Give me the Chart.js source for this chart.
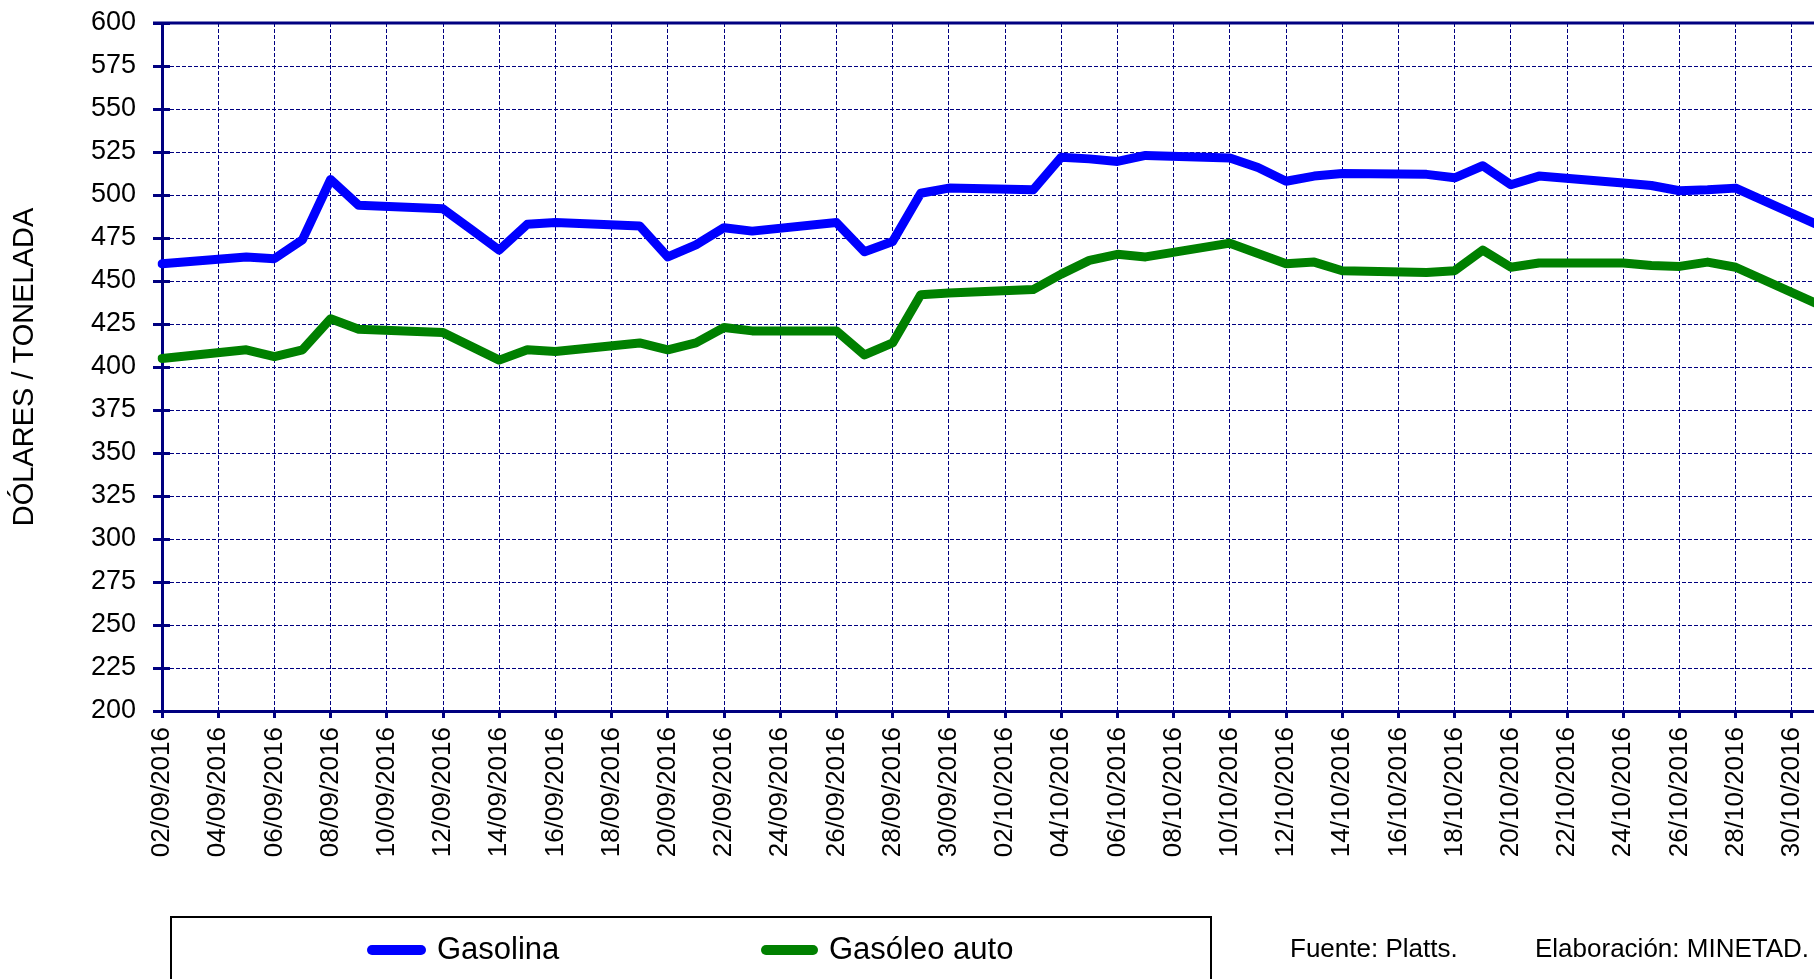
<!DOCTYPE html>
<html>
<head>
<meta charset="utf-8">
<title>Gasolina y gasóleo auto</title>
<script src="https://cdn.jsdelivr.net/npm/chart.js@4.4.0/dist/chart.umd.min.js"></script>
<style>
  html, body { margin: 0; padding: 0; background: #fff; overflow: hidden; }
  canvas { display: block; }
</style>
</head>
<body>
<canvas id="precios" width="1845" height="1000"></canvas>
<script>
// dias con cotizacion (los fines de semana no hay dato)
const dates = [
  "02/09/2016", "05/09/2016", "06/09/2016", "07/09/2016", "08/09/2016", "09/09/2016",
  "12/09/2016", "13/09/2016", "14/09/2016", "15/09/2016", "16/09/2016",
  "19/09/2016", "20/09/2016", "21/09/2016", "22/09/2016", "23/09/2016",
  "26/09/2016", "27/09/2016", "28/09/2016", "29/09/2016", "30/09/2016",
  "03/10/2016", "04/10/2016", "05/10/2016", "06/10/2016", "07/10/2016",
  "10/10/2016", "11/10/2016", "12/10/2016", "13/10/2016", "14/10/2016",
  "17/10/2016", "18/10/2016", "19/10/2016", "20/10/2016", "21/10/2016",
  "24/10/2016", "25/10/2016", "26/10/2016", "27/10/2016", "28/10/2016",
  "31/10/2016"
];
const gasolina = [
  460, 464, 463, 474, 509, 494,
  492, 480, 468, 483, 484,
  482, 464, 471, 481, 479,
  484, 467, 473, 501, 504,
  503, 522, 521, 519.5, 523,
  521.5, 516, 508, 511, 512.5,
  512, 510, 517, 506, 511,
  507, 505.5, 502.5, 503, 504,
  482
];
const gasoleo = [
  405, 410, 406, 410, 428, 422,
  420, 412, 404, 410, 409,
  414, 410, 414, 423, 421,
  421, 407, 414, 442, 443,
  445, 454, 462, 465.5, 464,
  472, 466, 460, 461, 456,
  455, 456, 468, 458, 460.5,
  460.5, 459, 458.5, 461, 458,
  436
];
const yMin = 200;
const yMax = 600;
const yStep = 25;

const NAVY = "#000080";
const FONT = "'Liberation Sans', Arial, sans-serif";
Chart.defaults.font.family = FONT;
Chart.defaults.color = "#000";

// eje de fechas diario, como en el original
function parse(s) {
  const [d, m, y] = s.split("/").map(Number);
  return new Date(y, m - 1, d);
}
function fmt(dt) {
  return String(dt.getDate()).padStart(2, "0") + "/" +
    String(dt.getMonth() + 1).padStart(2, "0") + "/" + dt.getFullYear();
}
const labels = [];
const last = parse(dates[dates.length - 1]);
for (let dt = parse(dates[0]); dt <= last; dt.setDate(dt.getDate() + 1)) {
  labels.push(fmt(dt));
}
function serie(values) {
  return labels.map(l => {
    const i = dates.indexOf(l);
    return i < 0 ? null : values[i];
  });
}

// marco superior, marcas interiores del eje y, leyenda y fuente
const marco = {
  id: "marco",
  beforeDatasetsDraw(chart) {
    const { ctx, chartArea: a, scales: { y } } = chart;
    ctx.save();
    ctx.strokeStyle = NAVY;
    ctx.lineWidth = 3;
    ctx.beginPath();
    ctx.moveTo(a.left - 9, a.top);
    ctx.lineTo(a.right, a.top);
    ctx.lineTo(a.right, a.bottom);
    y.ticks.forEach(t => {
      const py = Math.round(y.getPixelForValue(t.value)) + 0.5;
      ctx.moveTo(a.left, py);
      ctx.lineTo(a.left + 8, py);
    });
    ctx.stroke();
    ctx.restore();
  },
  afterDraw(chart) {
    const ctx = chart.ctx;
    const ds = chart.data.datasets;
    ctx.save();
    ctx.strokeStyle = "#000";
    ctx.lineWidth = 2;
    ctx.strokeRect(171, 917, 1040, 100);

    ctx.lineCap = "round";
    ctx.lineWidth = 10;
    ctx.textBaseline = "middle";
    ctx.fillStyle = "#000";
    ctx.font = "31px " + FONT;
    const items = [[372, 421, 437], [766, 813, 829]];
    items.forEach((p, i) => {
      ctx.strokeStyle = ds[i].borderColor;
      ctx.beginPath();
      ctx.moveTo(p[0], 950);
      ctx.lineTo(p[1], 950);
      ctx.stroke();
      ctx.fillText(ds[i].label, p[2], 950);
    });

    ctx.font = "26px " + FONT;
    ctx.fillText("Fuente: Platts.", 1290, 950);
    ctx.fillText("Elaboración: MINETAD.", 1535, 950);
    ctx.restore();
  }
};

const lineStyle = {
  borderWidth: 9,
  pointRadius: 0,
  spanGaps: true,
  tension: 0,
  borderJoinStyle: "round",
  borderCapStyle: "round",
  fill: false
};

new Chart(document.getElementById("precios"), {
  type: "line",
  data: {
    labels: labels,
    datasets: [
      Object.assign({ label: "Gasolina", data: serie(gasolina), borderColor: "#0000ff" }, lineStyle),
      Object.assign({ label: "Gasóleo auto", data: serie(gasoleo), borderColor: "#008000" }, lineStyle)
    ]
  },
  options: {
    responsive: false,
    animation: false,
    events: [],
    layout: { padding: { left: 0, top: 23, right: 25, bottom: 0 } },
    plugins: {
      legend: { display: false },
      tooltip: { enabled: false }
    },
    scales: {
      x: {
        offset: false,
        afterFit: s => {
          s.height = 289;
          s.paddingLeft = 0;
          s.paddingRight = 0;
        },
        grid: {
          color: c => (c.index % 2 ? "rgba(0,0,0,0)" : NAVY),
          lineWidth: 1,
          tickLength: 7,
          tickWidth: 3,
          tickColor: c => (c.index % 2 ? "rgba(0,0,0,0)" : NAVY),
          tickBorderDash: []
        },
        border: { color: NAVY, width: 3, dash: [4, 2] },
        ticks: {
          autoSkip: false,
          minRotation: 90,
          maxRotation: 90,
          padding: 9,
          font: { size: 26 },
          callback: (v, i) => (i % 2 ? "" : labels[i])
        }
      },
      y: {
        min: yMin,
        max: yMax,
        afterFit: s => {
          s.width = 162;
          s.paddingTop = 0;
          s.paddingBottom = 0;
        },
        grid: {
          color: NAVY,
          lineWidth: 1,
          tickLength: 9,
          tickWidth: 3,
          tickColor: NAVY,
          tickBorderDash: []
        },
        border: { color: NAVY, width: 3, dash: [4, 2] },
        ticks: {
          stepSize: yStep,
          autoSkip: false,
          padding: 17,
          font: { size: 27 }
        },
        title: {
          display: true,
          text: "DÓLARES / TONELADA",
          font: { size: 29 },
          padding: { top: 8, bottom: 0 }
        }
      }
    }
  },
  plugins: [marco]
});
</script>
</body>
</html>
